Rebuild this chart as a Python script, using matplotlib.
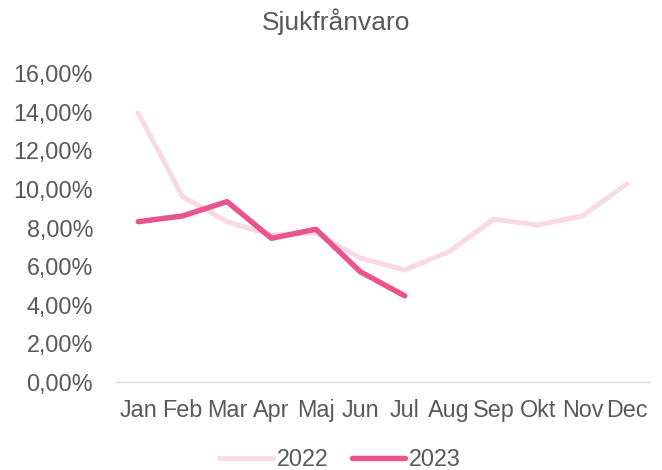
import numpy as np
import matplotlib.pyplot as plt
from matplotlib.ticker import FuncFormatter

plt.rcParams['font.family'] = ['Liberation Sans', 'DejaVu Sans']

months = ['Jan', 'Feb', 'Mar', 'Apr', 'Maj', 'Jun', 'Jul', 'Aug', 'Sep', 'Okt', 'Nov', 'Dec']
sick_2022 = [13.93, 9.60, 8.30, 7.61, 7.72, 6.42, 5.80, 6.75, 8.43, 8.13, 8.60, 10.26]
sick_2023 = [8.30, 8.60, 9.34, 7.44, 7.91, 5.71, 4.46]

grey = '#595959'
fs = 16.8

fig = plt.figure(figsize=(6.62, 4.70), dpi=100)
ax = fig.add_axes([116/662, 88/470, 533/662, 309/470])

x = np.arange(len(months))
ax.plot(x, sick_2022, color='#F9D9E5', lw=3.6, solid_capstyle='round', solid_joinstyle='round', label='2022')
ax.plot(x[:len(sick_2023)], sick_2023, color='#E8548B', lw=3.9, solid_capstyle='round', solid_joinstyle='round', label='2023')

ax.set_xlim(-0.5, len(months) - 0.5)
ax.set_ylim(0, 16)
ax.set_yticks(np.arange(0, 17, 2))
ax.yaxis.set_major_formatter(FuncFormatter(lambda v, p: f'{v:.2f}'.replace('.', ',') + '%'))
ax.set_xticks(x)
ax.set_xticklabels(months)

for s in ['top', 'right', 'left']:
    ax.spines[s].set_visible(False)
ax.spines['bottom'].set_color('#D9D9D9')
ax.spines['bottom'].set_linewidth(1.0)
ax.tick_params(axis='both', length=0, labelsize=fs, labelcolor=grey)
ax.tick_params(axis='y', pad=16.5)
ax.tick_params(axis='x', pad=12)

fig.text(336/662, 1 - 22/470, 'Sjukfrånvaro', ha='center', va='center', fontsize=19, color=grey)

fig.legend(loc='center', bbox_to_anchor=(340/662, 1 - 460/470), ncol=2, frameon=False,
           fontsize=fs, labelcolor=grey, handlelength=2.3, handletextpad=0.15, columnspacing=1.0)

fig.savefig('out.png', dpi=100)
